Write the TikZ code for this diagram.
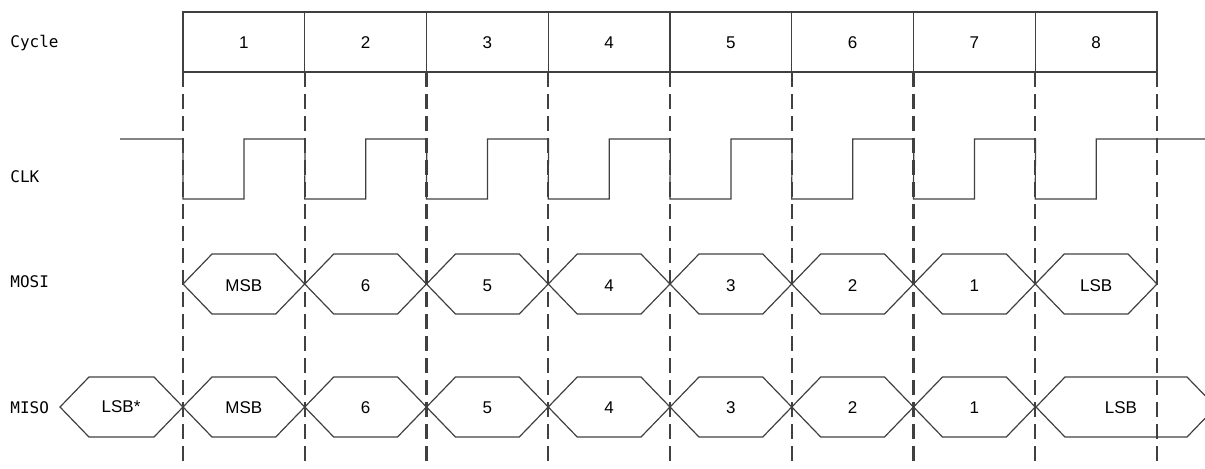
\documentclass[tikz,border=0pt]{standalone}
\usepackage{fontspec}
\setmainfont{Liberation Sans}
\newfontfamily\signalfont{DejaVu Sans Mono}
\usepackage{tikz}
\usetikzlibrary{positioning}
\definecolor{wavegray}{RGB}{64,64,64}

%% one data slot of a bus signal: left x, right x, centre y
\newcommand{\busslot}[3]{%
  \draw[wave] (#1,#3) -- (#1+29,#3-30) -- (#2-29,#3-30) -- (#2,#3)
    -- (#2-29,#3+30) -- (#1+29,#3+30) -- cycle;}

\begin{document}
\begin{tikzpicture}[
  x=0.5pt, y=-0.5pt,
  font=\fontsize{8.5}{10}\selectfont,
  wave/.style={draw=wavegray, line width=0.6pt},
  cutline/.style={draw=wavegray, line width=1.1pt, dash pattern=on 7.5pt off 3.5pt},
  sig/.style={font=\signalfont\fontsize{8}{10}\selectfont, anchor=west, inner sep=0pt},
  bit/.style={inner sep=0pt},
]
\clip (0,0) rectangle (1205,468);

%% Signal names
\node[sig] (lcycle) at (10,43)  {Cycle};
\node[sig] (lclk)   at (10,177) {CLK};
\node[sig] (lmosi)  at (10,282) {MOSI};
\node[sig] (lmiso)  at (10,408) {MISO};

%% Cycle boxes
\draw[wave] (183,12) rectangle (1157,72);
\foreach \i in {1,...,8} {
  \pgfmathsetmacro{\xl}{183+121.75*(\i-1)}
  \draw[wave] (\xl,12) -- (\xl,72);
  \node[bit] (cyc\i) at (\xl+60.9,43) {\i};
}

%% Cycle boundaries
\foreach \i in {0,...,8} {
  \pgfmathsetmacro{\xb}{183+121.75*\i}
  \draw[cutline] (\xb,72) -- (\xb,468);
}

%% CLK
\draw[wave] (120,139) -- (183,139)
  \foreach \i in {0,...,7} {
    -- ({183+121.75*\i},199) -- ({244+121.75*\i},199)
    -- ({244+121.75*\i},139) -- ({305+121.75*\i},139)
  } -- (1205,139);

%% MOSI
\foreach \i/\t in {1/MSB,2/6,3/5,4/4,5/3,6/2,7/1,8/LSB} {
  \pgfmathsetmacro{\xl}{183+121.75*(\i-1)}
  \pgfmathsetmacro{\xr}{183+121.75*\i}
  \busslot{\xl}{\xr}{284}
  \node[bit] (mosi\i) at (\xl+60.9,286) {\t};
}

%% MISO
\busslot{60}{183}{407}
\node[bit] (miso0) at (121,407) {LSB*};
\foreach \i/\t in {1/MSB,2/6,3/5,4/4,5/3,6/2,7/1} {
  \pgfmathsetmacro{\xl}{183+121.75*(\i-1)}
  \pgfmathsetmacro{\xr}{183+121.75*\i}
  \busslot{\xl}{\xr}{407}
  \node[bit] (miso\i) at (\xl+60.9,408) {\t};
}
\busslot{1036}{1216}{407}
\node[bit] (miso8) at (1121,408) {LSB};

\end{tikzpicture}
\end{document}
